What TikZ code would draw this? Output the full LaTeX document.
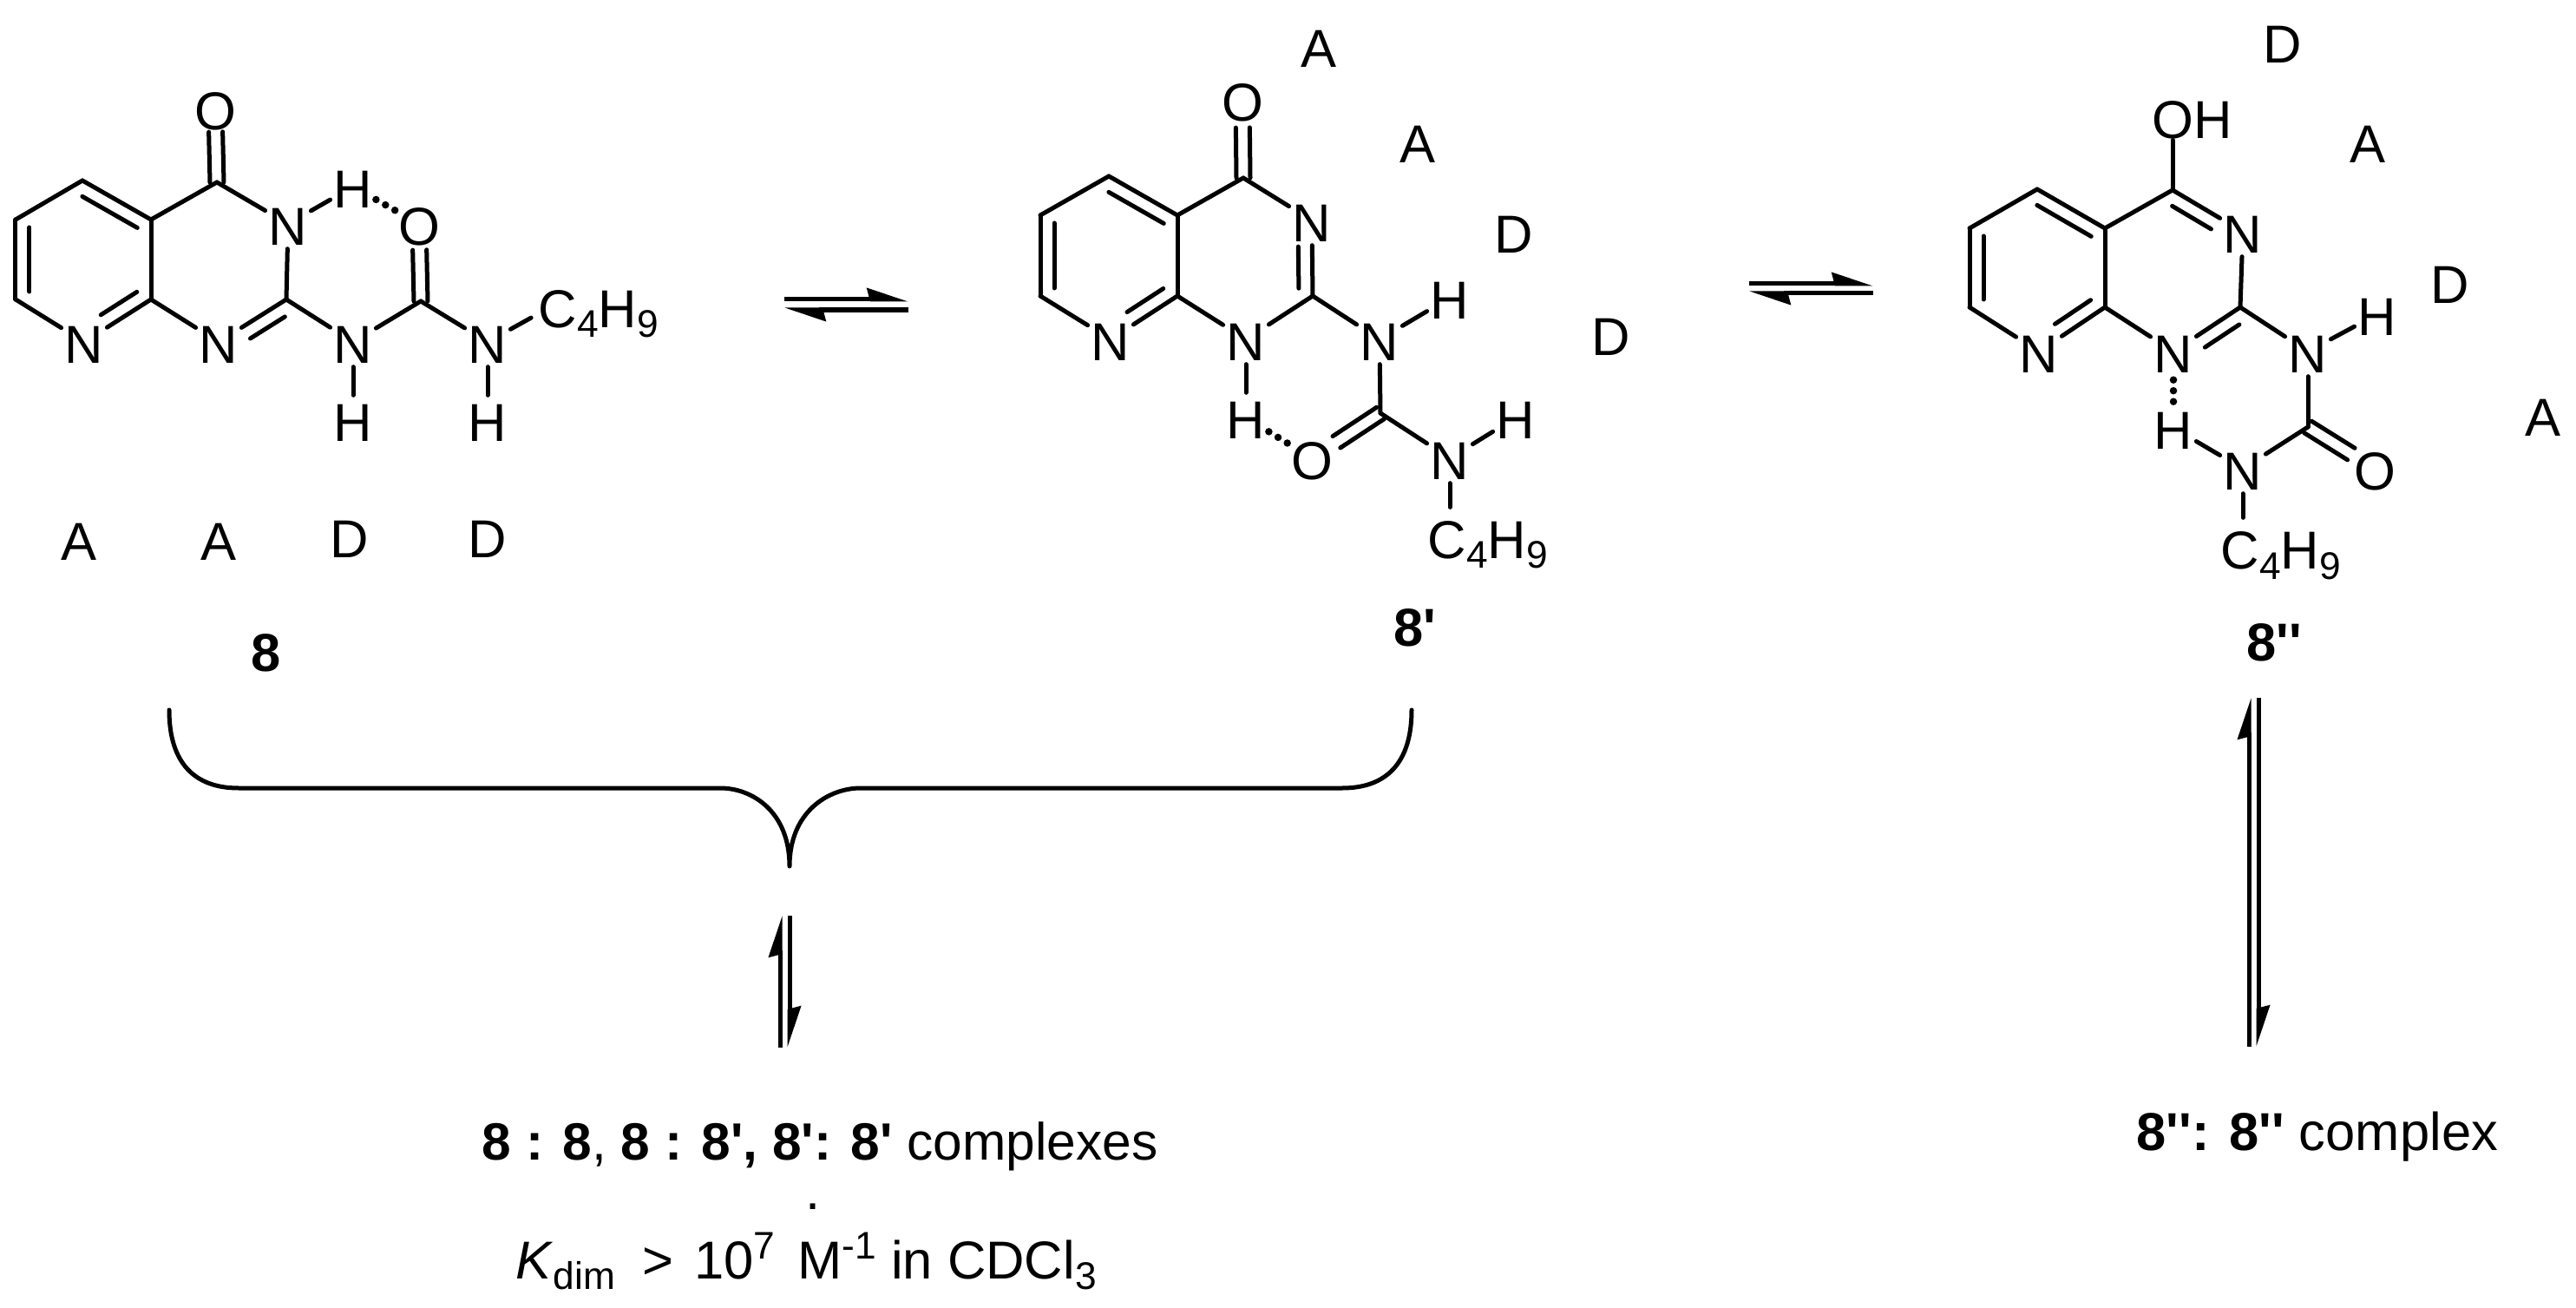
\documentclass[tikz,border=0pt]{standalone}
\usepackage{fontspec}
\usepackage{tikz}
\usetikzlibrary{calc,arrows.meta}
\newfontfamily\chemfont{Liberation Sans}
\newcommand{\dn}[1]{\raisebox{-0.12cm}{\fontsize{12.6}{14}\selectfont #1}}
\newcommand{\up}[1]{\raisebox{0.23cm}{\fontsize{12.6}{14}\selectfont #1}}
\newcommand{\butyl}{C\dn{4}H\dn{9}}
\newcommand{\innerbond}[5]{\draw[bond] ($(#1)!#3!(#2)!#5!90:(#2)$) -- ($(#2)!#4!(#1)!#5!-90:(#1)$);}
\newcommand{\twobond}[3]{%
  \draw[bond] ($(#1)!0.08cm!90:(#2)$) -- ($(#2)!#3!(#1)!0.08cm!-90:(#1)$);
  \draw[bond] ($(#1)!0.08cm!-90:(#2)$) -- ($(#2)!#3!(#1)!0.08cm!90:(#1)$);}
\tikzset{
    every node/.style={
    font=\chemfont\fontsize{17.5}{20}\selectfont
    },
    atom/.style={
    inner sep=0.035cm,text height=0.49cm,text depth=0cm
    },
    chain/.style={
    anchor=base west,inner sep=0pt
    },
    caption/.style={
    chain,font=\chemfont\fontsize{17.2}{20}\selectfont
    },
    tag/.style={
    inner sep=0pt
    },
    molname/.style={
    inner sep=0pt,font=\chemfont\fontsize{17.5}{20}\selectfont\bfseries
    },
    bond/.style={
    line width=0.05cm,line cap=round,line join=round
    },
    hbond/.style={
    line width=0.085cm,line cap=round,dash pattern=on 0pt off 0.125cm
    },
    eqarrow/.style={
    line width=0.05cm,-{Stealth[left,length=0.4cm,width=0.26cm,inset=0.03cm]}
    },
}
\begin{document}
\begin{tikzpicture}[y=-1cm]
   \useasboundingbox (0,0) rectangle (29.69,15.07);

   \coordinate (ca1) at (0.95,2.08);
   \coordinate (ca2) at (0.18,2.53);
   \coordinate (ca3) at (0.18,3.45);
   \coordinate (ca4) at (1.74,3.45);
   \coordinate (ca5) at (1.74,2.53);
   \coordinate (ca6) at (2.50,2.10);
   \coordinate (ca7) at (3.30,3.45);
   \coordinate (ca8) at (4.85,3.47);
   \node[atom] (npa) at (0.97,3.94) {N};
   \node[atom] (nqa) at (2.52,3.94) {N};
   \node[atom] (nra) at (3.32,2.58) {N};
   \node[atom] (nsa) at (4.07,3.94) {N};
   \node[atom] (nta) at (5.62,3.94) {N};
   \node[atom] (oa) at (2.48,1.25) {O};
   \node[atom] (oba) at (4.83,2.58) {O};
   \node[atom] (ha) at (4.07,2.15) {H};
   \node[atom] (hba) at (4.07,4.84) {H};
   \node[atom] (hca) at (5.62,4.84) {H};
   \node[chain] (c4a) at (6.20,3.77) {\butyl};

   \path[bond]
     (ca1) edge (ca2)
           edge (ca5)
     (ca2) edge (ca3)
     (ca3) edge (npa)
     (ca4) edge (npa)
           edge (ca5)
           edge (nqa)
     (ca5) edge (ca6)
     (ca6) edge (nra)
     (ca7) edge (nra)
           edge (nqa)
           edge (nsa)
     (ca8) edge (nsa)
           edge (nta)
     (nra) edge (ha)
     (nsa) edge (hba)
     (nta) edge (hca)
           edge[shorten >=0.09cm] (c4a.west);
   \innerbond{ca1}{ca5}{0.09cm}{0.09cm}{-0.16cm}
   \innerbond{ca2}{ca3}{0.09cm}{0.09cm}{0.16cm}
   \innerbond{ca4}{npa}{0.09cm}{0.33cm}{-0.16cm}
   \innerbond{ca7}{nqa}{0.12cm}{0.33cm}{0.16cm}
   \twobond{ca6}{oa}{0.27cm}
   \twobond{ca8}{oba}{0.3cm}
   \draw[hbond,shorten >=-0.04cm] (ha) -- (oba);

   \coordinate (cb1) at (12.78,2.03);
   \coordinate (cb2) at (11.99,2.48);
   \coordinate (cb3) at (11.99,3.41);
   \coordinate (cb4) at (13.57,3.41);
   \coordinate (cb5) at (13.57,2.48);
   \coordinate (cb6) at (14.33,2.05);
   \coordinate (cb7) at (15.13,3.41);
   \coordinate (cb8) at (15.91,4.76);
   \node[atom] (npb) at (12.80,3.91) {N};
   \node[atom] (nqb) at (14.36,3.91) {N};
   \node[atom] (nrb) at (15.12,2.54) {N};
   \node[atom] (nsb) at (15.90,3.91) {N};
   \node[atom] (ntb) at (16.71,5.28) {N};
   \node[atom] (ob) at (14.32,1.15) {O};
   \node[atom] (obb) at (15.12,5.28) {O};
   \node[atom] (hb) at (16.71,3.43) {H};
   \node[atom] (hbb) at (14.36,4.81) {H};
   \node[atom] (hcb) at (17.47,4.81) {H};
   \node[chain] (c4b) at (16.45,6.43) {\butyl};

   \path[bond]
     (cb1) edge (cb2)
           edge (cb5)
     (cb2) edge (cb3)
     (cb3) edge (npb)
     (cb4) edge (npb)
           edge (cb5)
           edge (nqb)
     (cb5) edge (cb6)
     (cb6) edge (nrb)
     (cb7) edge (nrb)
           edge (nqb)
           edge (nsb)
     (cb8) edge (nsb)
           edge (ntb)
     (nqb) edge (hbb)
     (nsb) edge (hb)
     (ntb) edge (hcb)
           edge[shorten >=0.15cm] (ntb |- c4b.north);
   \innerbond{cb1}{cb5}{0.09cm}{0.09cm}{-0.16cm}
   \innerbond{cb2}{cb3}{0.09cm}{0.09cm}{0.16cm}
   \innerbond{cb4}{npb}{0.09cm}{0.33cm}{-0.16cm}
   \innerbond{cb7}{nrb}{0.09cm}{0.30cm}{0.16cm}
   \twobond{cb6}{ob}{0.32cm}
   \twobond{cb8}{obb}{0.34cm}
   \draw[hbond,shorten >=-0.04cm] (hbb) -- (obb);

   \coordinate (cc1) at (23.48,2.18);
   \coordinate (cc2) at (22.70,2.63);
   \coordinate (cc3) at (22.70,3.54);
   \coordinate (cc4) at (24.26,3.54);
   \coordinate (cc5) at (24.26,2.63);
   \coordinate (cc6) at (25.04,2.19);
   \coordinate (cc7) at (25.82,3.54);
   \coordinate (cc8) at (26.60,4.92);
   \node[atom] (npc) at (23.50,4.05) {N};
   \node[atom] (nqc) at (25.05,4.05) {N};
   \node[atom] (nrc) at (25.85,2.67) {N};
   \node[atom] (nsc) at (26.60,4.05) {N};
   \node[atom] (ntc) at (25.85,5.40) {N};
   \node[atom] (oc) at (27.37,5.40) {O};
   \node[atom] (hc) at (27.40,3.62) {H};
   \node[atom] (hbc) at (25.05,4.93) {H};
   \node[chain] (ohc) at (24.80,1.60) {OH};
   \node[chain] (c4c) at (25.59,6.55) {\butyl};

   \path[bond]
     (cc1) edge (cc2)
           edge (cc5)
     (cc2) edge (cc3)
     (cc3) edge (npc)
     (cc4) edge (npc)
           edge (cc5)
           edge (nqc)
     (cc5) edge (cc6)
     (cc6) edge (nrc)
           edge (cc6 |- ohc.south)
     (cc7) edge (nrc)
           edge (nqc)
           edge (nsc)
     (cc8) edge (nsc)
           edge (ntc)
     (nsc) edge (hc)
     (hbc) edge (ntc)
     (ntc) edge[shorten >=0.15cm] (ntc |- c4c.north);
   \innerbond{cc1}{cc5}{0.09cm}{0.09cm}{-0.16cm}
   \innerbond{cc2}{cc3}{0.09cm}{0.09cm}{0.16cm}
   \innerbond{cc4}{npc}{0.09cm}{0.33cm}{-0.16cm}
   \innerbond{cc6}{nrc}{0.09cm}{0.33cm}{-0.16cm}
   \innerbond{cc7}{nqc}{0.12cm}{0.33cm}{0.16cm}
   \twobond{cc8}{oc}{0.32cm}
   \draw[hbond,shorten <=0.04cm] (nqc) -- (hbc);

   \node[tag] (aa1) at (0.91,6.24) {A};
   \node[tag] (aa2) at (2.52,6.24) {A};
   \node[tag] (da1) at (4.03,6.21) {D};
   \node[tag] (da2) at (5.62,6.21) {D};
   \node[tag] (ab1) at (15.20,0.56) {A};
   \node[tag] (ab2) at (16.34,1.66) {A};
   \node[tag] (db1) at (17.45,2.70) {D};
   \node[tag] (db2) at (18.57,3.88) {D};
   \node[tag] (dc1) at (26.31,0.51) {D};
   \node[tag] (ac1) at (27.29,1.66) {A};
   \node[tag] (dc2) at (28.24,3.28) {D};
   \node[tag] (ac2) at (29.31,4.81) {A};

   \node[molname] (mola) at (3.07,7.52) {8};
   \node[molname] (molb) at (16.31,7.23) {8'};
   \node[molname] (molc) at (26.21,7.40) {8''};

   \coordinate (eqa) at (9.04,3.45);
   \coordinate (eqb) at (10.47,3.45);
   \coordinate (eqc) at (10.47,3.57);
   \coordinate (eqd) at (9.04,3.57);
   \draw[eqarrow] (eqa) -- (eqb);
   \draw[eqarrow] (eqc) -- (eqd);
   \coordinate (eqe) at (20.16,3.27);
   \coordinate (eqf) at (21.59,3.27);
   \coordinate (eqg) at (21.59,3.38);
   \coordinate (eqh) at (20.16,3.38);
   \draw[eqarrow] (eqe) -- (eqf);
   \draw[eqarrow] (eqg) -- (eqh);
   \coordinate (eqi) at (8.99,12.07);
   \coordinate (eqj) at (8.99,10.55);
   \coordinate (eqk) at (9.10,10.55);
   \coordinate (eql) at (9.10,12.07);
   \draw[eqarrow] (eqi) -- (eqj);
   \draw[eqarrow] (eqk) -- (eql);
   \coordinate (eqm) at (25.92,12.06);
   \coordinate (eqn) at (25.92,8.04);
   \coordinate (eqo) at (26.03,8.04);
   \coordinate (eqp) at (26.03,12.06);
   \draw[eqarrow] (eqm) -- (eqn);
   \draw[eqarrow] (eqo) -- (eqp);

   \coordinate (bra) at (1.95,8.18);
   \coordinate (brb) at (2.75,9.08);
   \coordinate (brc) at (8.30,9.08);
   \coordinate (brd) at (9.10,9.98);
   \coordinate (bre) at (9.92,9.08);
   \coordinate (brf) at (15.47,9.08);
   \coordinate (brg) at (16.27,8.18);
   \draw[bond] (bra) .. controls (1.95,8.80) and (2.25,9.08) .. (brb) -- (brc)
     .. controls (8.67,9.08) and (9.10,9.35) .. (brd)
     .. controls (9.10,9.35) and (9.55,9.08) .. (bre) -- (brf)
     .. controls (15.97,9.08) and (16.27,8.80) .. (brg);

   \node[caption] (cxa) at (5.55,13.36) {\textbf{8 : 8}, \textbf{8 : 8', 8': 8'} complexes};
   \node[chain] (dot) at (9.28,13.93) {.};
   \node[chain] (kdim) at (5.94,14.73) {\textit{K}\dn{dim}\hspace{0.14cm} > \hspace{0.07cm}10\up{7} \hspace{0.09cm}M\up{-1} in CDCl\dn{3}};
   \node[chain] (cxb) at (24.62,13.25) {\textbf{8'': 8''} complex};
\end{tikzpicture}
\end{document}
